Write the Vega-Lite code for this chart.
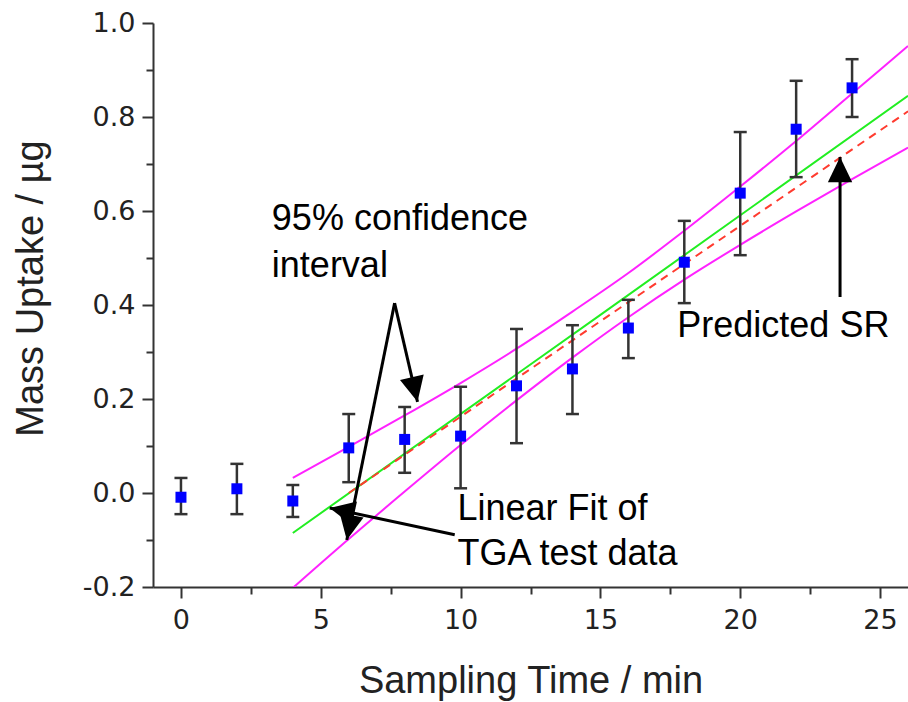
{
  "$schema": "https://vega.github.io/schema/vega-lite/v6.json",
  "width": 755,
  "height": 564,
  "autosize": {"type": "none"},
  "padding": {"left": 153, "top": 23, "right": 0, "bottom": 115},
  "background": "white",
  "config": {"view": {"stroke": null}, "axis": {"grid": false}},
  "datasets": {
    "band": [
      {"series": "upper", "x": 4, "y": 0.032}, {"series": "upper", "x": 6, "y": 0.098},
      {"series": "upper", "x": 8, "y": 0.165}, {"series": "upper", "x": 10, "y": 0.234},
      {"series": "upper", "x": 12, "y": 0.307}, {"series": "upper", "x": 14, "y": 0.386},
      {"series": "upper", "x": 16, "y": 0.468}, {"series": "upper", "x": 18, "y": 0.558},
      {"series": "upper", "x": 20, "y": 0.652}, {"series": "upper", "x": 22, "y": 0.749},
      {"series": "upper", "x": 24, "y": 0.850}, {"series": "upper", "x": 26, "y": 0.951},
      {"series": "lower", "x": 4, "y": -0.202}, {"series": "lower", "x": 6, "y": -0.098},
      {"series": "lower", "x": 8, "y": 0.003}, {"series": "lower", "x": 10, "y": 0.102},
      {"series": "lower", "x": 12, "y": 0.197}, {"series": "lower", "x": 14, "y": 0.288},
      {"series": "lower", "x": 16, "y": 0.374}, {"series": "lower", "x": 18, "y": 0.454},
      {"series": "lower", "x": 20, "y": 0.528}, {"series": "lower", "x": 22, "y": 0.599},
      {"series": "lower", "x": 24, "y": 0.668}, {"series": "lower", "x": 26, "y": 0.735}
    ],
    "fit": [{"x": 4, "y": -0.085}, {"x": 15, "y": 0.379}, {"x": 26, "y": 0.845}],
    "pred": [{"x": 6, "y": 0.0}, {"x": 16, "y": 0.406}, {"x": 26, "y": 0.812}],
    "points": [
      {"x": 0, "y": -0.009, "lo": -0.045, "hi": 0.032},
      {"x": 2, "y": 0.009, "lo": -0.045, "hi": 0.062},
      {"x": 4, "y": -0.017, "lo": -0.051, "hi": 0.017},
      {"x": 6, "y": 0.096, "lo": 0.023, "hi": 0.168},
      {"x": 8, "y": 0.114, "lo": 0.043, "hi": 0.183},
      {"x": 10, "y": 0.121, "lo": 0.010, "hi": 0.226},
      {"x": 12, "y": 0.228, "lo": 0.106, "hi": 0.349},
      {"x": 14, "y": 0.264, "lo": 0.168, "hi": 0.357},
      {"x": 16, "y": 0.351, "lo": 0.287, "hi": 0.411},
      {"x": 18, "y": 0.491, "lo": 0.404, "hi": 0.579},
      {"x": 20, "y": 0.638, "lo": 0.506, "hi": 0.768},
      {"x": 22, "y": 0.774, "lo": 0.672, "hi": 0.877},
      {"x": 24, "y": 0.862, "lo": 0.800, "hi": 0.923}
    ],
    "arrows": [
      {"id": "a1", "x": 7.64, "y": 0.404, "x2": 8.46, "y2": 0.194},
      {"id": "a2", "x": 7.64, "y": 0.404, "x2": 5.93, "y2": -0.100},
      {"id": "a3", "x": 9.79, "y": -0.089, "x2": 5.32, "y2": -0.032},
      {"id": "a4", "x": 23.57, "y": 0.417, "x2": 23.57, "y2": 0.715}
    ],
    "labels": [
      {"x": 3.25, "y": 0.56, "text": "95% confidence"},
      {"x": 3.25, "y": 0.46, "text": "interval"},
      {"x": 17.75, "y": 0.332, "text": "Predicted SR"},
      {"x": 9.89, "y": -0.057, "text": "Linear Fit of"},
      {"x": 9.89, "y": -0.153, "text": "TGA test data"}
    ]
  },
  "layer": [
    {
      "data": {"name": "band"},
      "mark": {"type": "line", "color": "#ff22ff", "strokeWidth": 2, "clip": true, "interpolate": "monotone"},
      "encoding": {
        "x": {
          "field": "x", "type": "quantitative",
          "scale": {"domain": [-1, 26], "nice": false, "zero": false},
          "axis": {
            "title": "Sampling Time / min",
            "values": [0, 2.5, 5, 7.5, 10, 12.5, 15, 17.5, 20, 22.5, 25],
            "labelExpr": "datum.value % 5 == 0 ? format(datum.value, 'd') : ''",
            "tickSize": {"condition": {"test": "datum.value % 5 == 0", "value": 11}, "value": 7},
            "tickWidth": 2, "tickColor": "#333333",
            "domainColor": "#333333", "domainWidth": 2,
            "labelFont": "DejaVu Sans", "labelFontSize": 27, "labelColor": "#222222",
            "labelPadding": 9, "labelOverlap": false, "labelFlush": false, "labelBound": false,
            "titleFont": "Liberation Sans", "titleFontSize": 38, "titleFontWeight": "normal",
            "titleColor": "#222222", "titleY": 105, "titleBaseline": "alphabetic"
          }
        },
        "y": {
          "field": "y", "type": "quantitative",
          "scale": {"domain": [-0.2, 1.0], "nice": false, "zero": false},
          "axis": {
            "title": "Mass Uptake / µg",
            "values": [-0.2, -0.1, 0, 0.1, 0.2, 0.3, 0.4, 0.5, 0.6, 0.7, 0.8, 0.9, 1.0],
            "labelExpr": "abs(datum.value*5 - round(datum.value*5)) < 0.001 ? (datum.value < -0.0001 ? '-' : '') + format(abs(datum.value), '.1f') : ''",
            "tickSize": {"condition": {"test": "abs(datum.value*5 - round(datum.value*5)) < 0.001", "value": 11}, "value": 7},
            "tickWidth": 2, "tickColor": "#333333",
            "domainColor": "#333333", "domainWidth": 2,
            "labelFont": "DejaVu Sans", "labelFontSize": 27, "labelColor": "#222222",
            "labelPadding": 7, "labelOverlap": false, "labelFlush": false, "labelBound": false,
            "titleFont": "Liberation Sans", "titleFontSize": 38, "titleFontWeight": "normal",
            "titleColor": "#222222", "titleX": -111, "titleY": 265, "titleBaseline": "alphabetic"
          }
        },
        "detail": {"field": "series", "type": "nominal"}
      }
    },
    {
      "data": {"name": "fit"},
      "mark": {"type": "line", "color": "#22ee22", "strokeWidth": 2, "clip": true},
      "encoding": {
        "x": {"field": "x", "type": "quantitative"},
        "y": {"field": "y", "type": "quantitative"}
      }
    },
    {
      "data": {"name": "pred"},
      "mark": {"type": "line", "color": "#ff3b2f", "strokeWidth": 2, "strokeDash": [8, 6], "clip": true},
      "encoding": {
        "x": {"field": "x", "type": "quantitative"},
        "y": {"field": "y", "type": "quantitative"}
      }
    },
    {
      "data": {"name": "points"},
      "mark": {"type": "rule", "color": "#333333", "strokeWidth": 2.5},
      "encoding": {
        "x": {"field": "x", "type": "quantitative"},
        "y": {"field": "lo", "type": "quantitative"},
        "y2": {"field": "hi"}
      }
    },
    {
      "data": {"name": "points"},
      "mark": {"type": "point", "shape": "stroke", "size": 169, "stroke": "#333333", "strokeWidth": 2.5, "opacity": 1},
      "encoding": {
        "x": {"field": "x", "type": "quantitative"},
        "y": {"field": "lo", "type": "quantitative"}
      }
    },
    {
      "data": {"name": "points"},
      "mark": {"type": "point", "shape": "stroke", "size": 169, "stroke": "#333333", "strokeWidth": 2.5, "opacity": 1},
      "encoding": {
        "x": {"field": "x", "type": "quantitative"},
        "y": {"field": "hi", "type": "quantitative"}
      }
    },
    {
      "data": {"name": "points"},
      "mark": {"type": "point", "shape": "square", "size": 121, "filled": true, "color": "#0000ff", "opacity": 1},
      "encoding": {
        "x": {"field": "x", "type": "quantitative"},
        "y": {"field": "y", "type": "quantitative"}
      }
    },
    {
      "data": {"name": "arrows"},
      "mark": {"type": "rule", "color": "#000000", "strokeWidth": 3},
      "encoding": {
        "x": {"field": "x", "type": "quantitative"},
        "y": {"field": "y", "type": "quantitative"},
        "x2": {"field": "x2"},
        "y2": {"field": "y2"}
      }
    },
    {
      "data": {"name": "arrows"},
      "transform": [{"filter": "datum.id == 'a1'"}],
      "mark": {"type": "point", "shape": "M0,0L-0.65,1.35L0.65,1.35Z", "size": 1400, "filled": true, "color": "#000000", "opacity": 1, "angle": 167},
      "encoding": {
        "x": {"field": "x2", "type": "quantitative"},
        "y": {"field": "y2", "type": "quantitative"}
      }
    },
    {
      "data": {"name": "arrows"},
      "transform": [{"filter": "datum.id == 'a2'"}],
      "mark": {"type": "point", "shape": "M0,0L-0.65,1.35L0.65,1.35Z", "size": 1400, "filled": true, "color": "#000000", "opacity": 1, "angle": 191},
      "encoding": {
        "x": {"field": "x2", "type": "quantitative"},
        "y": {"field": "y2", "type": "quantitative"}
      }
    },
    {
      "data": {"name": "arrows"},
      "transform": [{"filter": "datum.id == 'a3'"}],
      "mark": {"type": "point", "shape": "M0,0L-0.65,1.35L0.65,1.35Z", "size": 1400, "filled": true, "color": "#000000", "opacity": 1, "angle": 282},
      "encoding": {
        "x": {"field": "x2", "type": "quantitative"},
        "y": {"field": "y2", "type": "quantitative"}
      }
    },
    {
      "data": {"name": "arrows"},
      "transform": [{"filter": "datum.id == 'a4'"}],
      "mark": {"type": "point", "shape": "M0,0L-0.65,1.35L0.65,1.35Z", "size": 1400, "filled": true, "color": "#000000", "opacity": 1, "angle": 0},
      "encoding": {
        "x": {"field": "x2", "type": "quantitative"},
        "y": {"field": "y2", "type": "quantitative"}
      }
    },
    {
      "data": {"name": "labels"},
      "mark": {"type": "text", "font": "Liberation Sans", "fontSize": 36, "align": "left", "baseline": "alphabetic", "color": "#000000"},
      "encoding": {
        "x": {"field": "x", "type": "quantitative"},
        "y": {"field": "y", "type": "quantitative"},
        "text": {"field": "text"}
      }
    }
  ]
}
